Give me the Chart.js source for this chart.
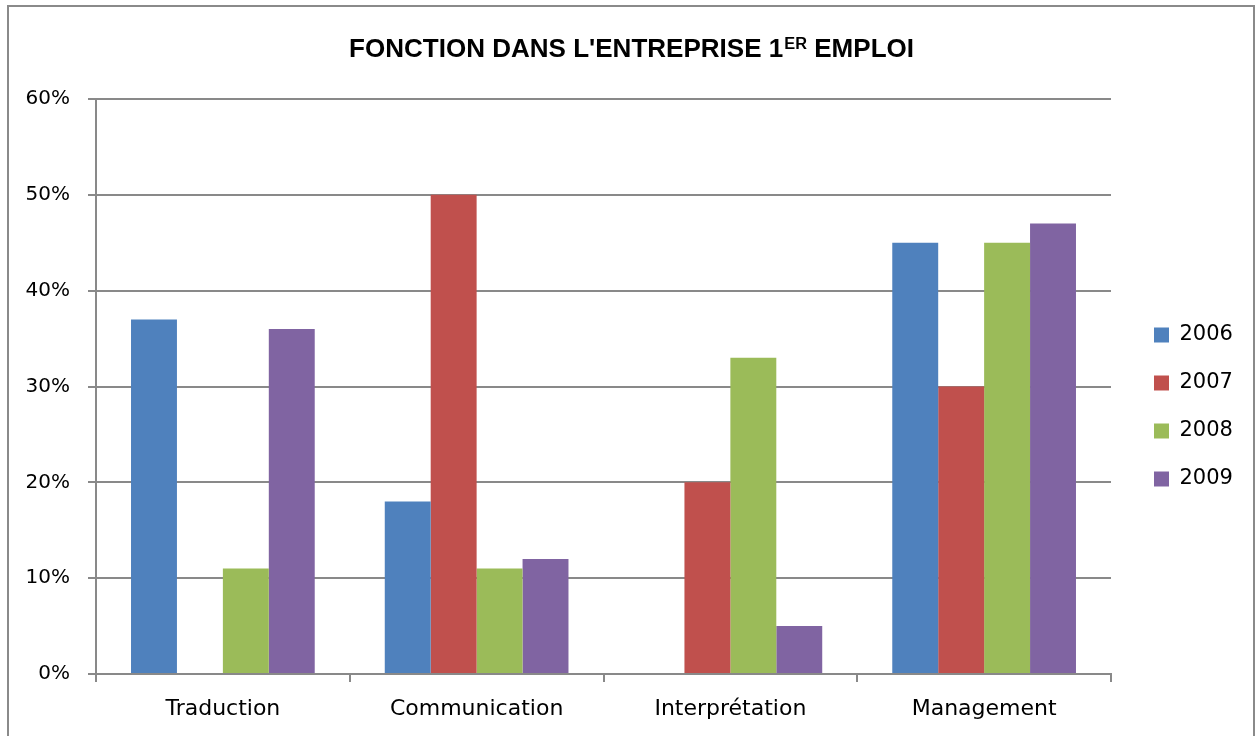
<!DOCTYPE html>
<html><head><meta charset="utf-8">
<script src="https://cdn.jsdelivr.net/npm/chart.js@4/dist/chart.umd.min.js"></script>
<style>html,body{margin:0;padding:0;background:#fff;overflow:hidden}</style>
</head><body>
<canvas id="c" width="1257" height="736" style="display:block;width:1257px;height:736px"></canvas>
<script>
const categories = ['Traduction', 'Communication', 'Interprétation', 'Management'];
const seriesNames = ['2006', '2007', '2008', '2009'];
const v2006 = [37, 18, 0, 45];
const v2007 = [0, 50, 20, 30];
const v2008 = [11, 11, 33, 45];
const v2009 = [36, 12, 5, 47];
const yTickValues = [0, 10, 20, 30, 40, 50, 60];
const titleMain = "FONCTION DANS L'ENTREPRISE 1";
const titleSup = "ER";
const titleEnd = " EMPLOI";
const colors = ['#4F81BD', '#C0504D', '#9BBB59', '#8064A2'];
const gridColor = '#898989';
const FONT = 'DejaVu Sans';

const seriesValues = [v2006, v2007, v2008, v2009];

const framePlugin = {
  id: 'frame',
  afterInit(chart) {
    const lg = chart.legend;
    if (lg) {
      const orig = lg.fit;
      lg.fit = function () { orig.call(this); this.width = 146; };
    }
  },
  afterLayout(chart) {
    const lg = chart.legend;
    if (lg) {
      lg.left = 1127; lg.right = 1257;
      lg.top = 88; lg.bottom = 726;
    }
  },
  beforeDraw(chart) {
    const ctx = chart.ctx;
    ctx.save();
    ctx.fillStyle = '#fff';
    ctx.fillRect(0, 0, chart.width, chart.height);
    ctx.strokeStyle = '#8a8a8a';
    ctx.lineWidth = 2;
    ctx.strokeRect(8, 6, 1246, 760);
    ctx.restore();
  },
  afterDraw(chart) {
    const ctx = chart.ctx;
    ctx.save();
    const size = 25.5;
    const supSize = 16;
    ctx.fillStyle = '#000';
    ctx.textBaseline = 'alphabetic';
    ctx.font = 'bold ' + size + 'px "Liberation Sans"';
    const w1 = ctx.measureText(titleMain).width;
    const w3 = ctx.measureText(titleEnd).width;
    ctx.font = 'bold ' + supSize + 'px "Liberation Sans"';
    const w2 = ctx.measureText(titleSup).width;
    const total = w1 + w2 + w3;
    const target = 564;
    const sx = target / total;
    const left = 349;
    const base = 57;
    ctx.translate(left, base);
    ctx.scale(sx, 1);
    ctx.font = 'bold ' + size + 'px "Liberation Sans"';
    ctx.fillText(titleMain, 0, 0);
    ctx.font = 'bold ' + supSize + 'px "Liberation Sans"';
    ctx.fillText(titleSup, w1 + 1, -8);
    ctx.font = 'bold ' + size + 'px "Liberation Sans"';
    ctx.fillText(titleEnd, w1 + w2 + 1, 0);
    ctx.restore();
  }
};

new Chart(document.getElementById('c'), {
  type: 'bar',
  data: {
    labels: categories,
    datasets: seriesNames.map((n, i) => ({
      label: n,
      data: seriesValues[i],
      backgroundColor: colors[i],
      borderWidth: 0,
      categoryPercentage: 0.724,
      barPercentage: 1.0
    }))
  },
  options: {
    responsive: false,
    devicePixelRatio: 1,
    animation: false,
    layout: { padding: { top: 99, left: 8, right: 0, bottom: 0 } },
    plugins: {
      title: { display: false },
      tooltip: { enabled: false },
      legend: {
        position: 'right',
        labels: {
          boxWidth: 15, boxHeight: 15, padding: 27,
          color: '#000',
          font: { family: FONT, size: 21 }
        }
      }
    },
    scales: {
      x: {
        afterFit(s) { s.height = 62; },
        grid: { display: true, drawOnChartArea: false, drawTicks: true, tickLength: 8, color: gridColor, lineWidth: 2, offset: true },
        border: { display: true, color: gridColor, width: 2 },
        ticks: { color: '#000', font: { family: FONT, size: 22 }, padding: 14, maxRotation: 0 }
      },
      y: {
        min: 0, max: 60,
        afterFit(s) { s.width = 88; },
        afterBuildTicks(s) { s.ticks = yTickValues.map(v => ({ value: v })); },
        grid: { display: true, drawOnChartArea: true, drawTicks: true, tickLength: 8, color: gridColor, lineWidth: 2 },
        border: { display: true, color: gridColor, width: 2 },
        ticks: { color: '#000', font: { family: FONT, size: 20 }, padding: 18, callback: v => v + '%' }
      }
    }
  },
  plugins: [framePlugin]
});
</script>
</body></html>
